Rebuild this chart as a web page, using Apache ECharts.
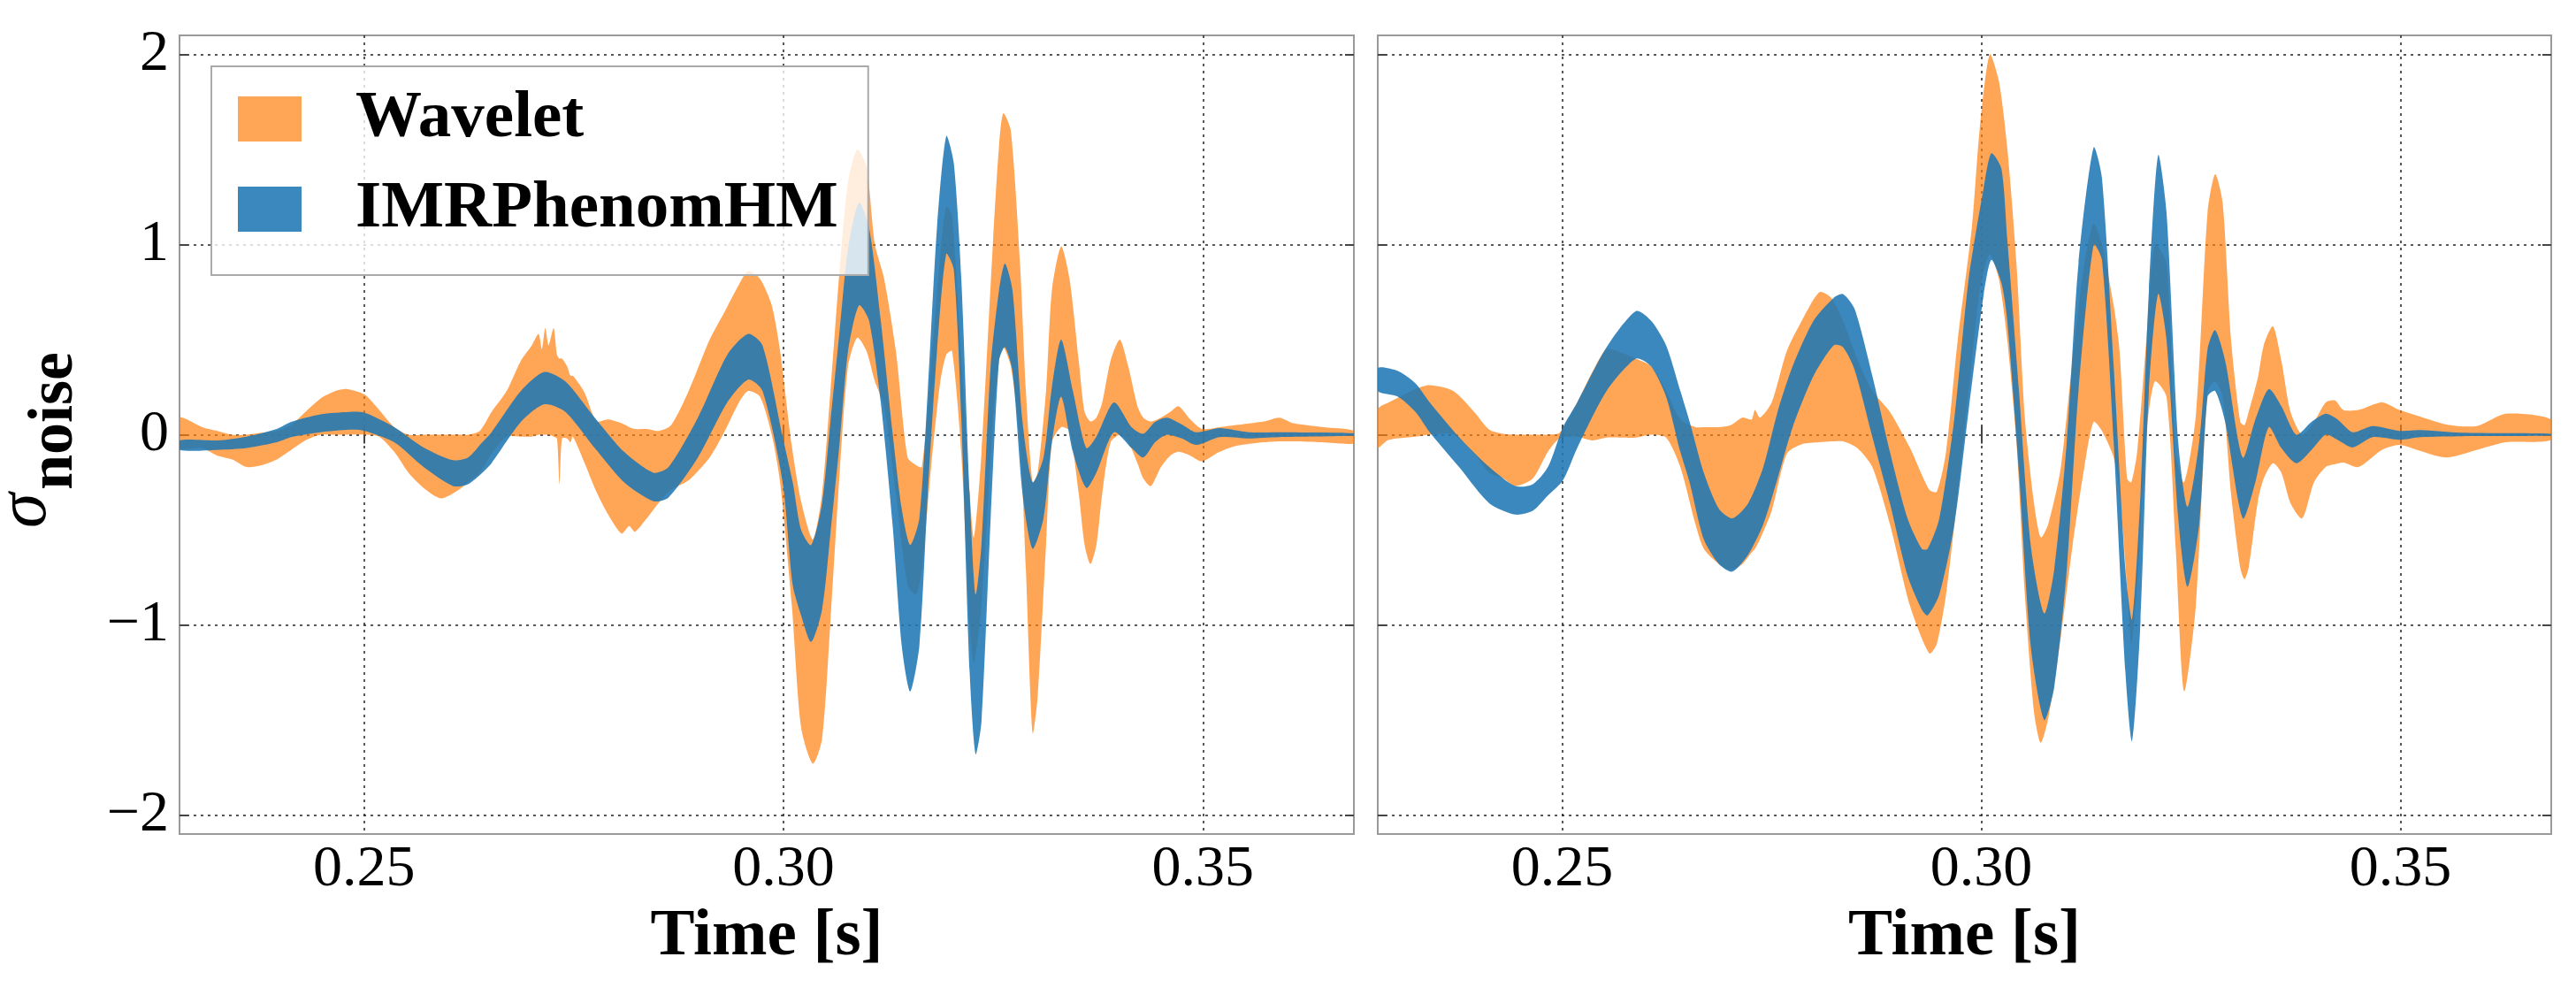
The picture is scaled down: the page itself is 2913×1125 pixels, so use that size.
<!DOCTYPE html>
<html>
<head>
<meta charset="utf-8">
<script src="https://cdn.jsdelivr.net/npm/echarts@6/dist/echarts.min.js"></script>
<style>
  html, body { margin: 0; padding: 0; background: #ffffff; }
  #chart { width: 2913px; height: 1125px; }
</style>
</head>
<body>
<div id="chart"></div>
<script>
// ---- DATA (time [s], lower, upper) ----
const xTicks = [0.25, 0.30, 0.35];
const yTicks = [-2, -1, 0, 1, 2];
const seriesNames = ['Wavelet', 'IMRPhenomHM'];

const leftWavelet = [
  [0.2280,-0.07,0.09],[0.2307,-0.07,0.04],[0.2325,-0.11,0.02],[0.2343,-0.13,0.0],[0.2360,-0.17,0.0],
  [0.2378,-0.16,0.01],[0.2396,-0.13,0.02],[0.2413,-0.08,0.05],[0.2430,-0.03,0.12],[0.2448,0.0,0.19],
  [0.2466,0.0,0.23],[0.2480,0.0,0.24],[0.2501,0.0,0.21],[0.2518,-0.01,0.13],[0.2536,-0.09,0.04],
  [0.2553,-0.20,0.0],[0.2571,-0.28,0.0],[0.2592,-0.335,0.0],[0.2613,-0.29,0.0],[0.2624,-0.25,0.0],
  [0.2638,-0.2,0.02],[0.2652,-0.1,0.12],[0.2670,-0.01,0.23],[0.2687,-0.01,0.39],[0.2700,-0.01,0.47],
  [0.2708,0.0,0.53],[0.2712,0.0,0.45],[0.2716,0.0,0.56],[0.2720,0.0,0.47],[0.2726,-0.01,0.56],
  [0.2730,-0.02,0.42],[0.2733,-0.26,0.40],[0.2736,-0.02,0.40],[0.2742,-0.02,0.36],[0.2746,-0.04,0.31],
  [0.2749,-0.01,0.31],[0.2763,-0.15,0.22],[0.2777,-0.30,0.07],[0.2791,-0.42,0.08],[0.2807,-0.52,0.06],
  [0.2816,-0.48,0.04],[0.2823,-0.51,0.03],[0.2837,-0.44,0.03],[0.2851,-0.36,0.02],[0.2866,-0.29,0.05],
  [0.2887,-0.24,0.23],[0.2912,-0.12,0.5],[0.2929,0.01,0.64],[0.2947,0.17,0.79],[0.2958,0.23,0.86],
  [0.2972,0.2,0.82],[0.2986,0.0,0.68],[0.2996,-0.25,0.44],[0.3010,-0.9,-0.06],[0.3021,-1.54,-0.35],
  [0.3035,-1.73,-0.55],[0.3046,-1.6,-0.31],[0.3056,-0.98,0.23],[0.3067,-0.2,0.87],[0.3077,0.36,1.33],
  [0.3088,0.51,1.5],[0.3099,0.44,1.41],[0.3109,0.28,1.0],[0.3120,0.15,0.82],[0.3134,-0.31,0.44],
  [0.3148,-0.79,-0.12],[0.3158,-0.84,-0.16],[0.3165,-0.71,-0.17],[0.3176,-0.17,0.36],[0.3187,0.28,0.95],
  [0.3194,0.42,1.2],[0.3201,0.44,1.15],[0.3212,-0.1,0.4],[0.3222,-1.0,-0.31],[0.3227,-1.2,-0.54],
  [0.3236,-0.9,-0.1],[0.3250,0.1,1.03],[0.3257,0.39,1.52],[0.3262,0.46,1.69],[0.3271,0.36,1.6],
  [0.3282,-0.04,0.9],[0.3289,-0.71,0.23],[0.3297,-1.57,-0.25],[0.3303,-1.38,-0.2],[0.3313,-0.58,0.23],
  [0.3320,-0.04,0.76],[0.3331,0.04,0.99],[0.3341,0.02,0.82],[0.3352,-0.31,0.39],[0.3359,-0.58,0.12],
  [0.3366,-0.68,0.07],[0.3373,-0.58,0.09],[0.3380,-0.31,0.17],[0.3390,-0.04,0.39],[0.3401,0.0,0.5],
  [0.3411,-0.04,0.36],[0.3422,-0.15,0.15],[0.3429,-0.23,0.09],[0.3438,-0.27,0.07],[0.3450,-0.17,0.09],
  [0.3461,-0.11,0.12],[0.3471,-0.09,0.15],[0.3485,-0.11,0.08],[0.3499,-0.14,0.03],[0.3520,-0.09,0.04],
  [0.3538,-0.06,0.05],[0.3573,-0.04,0.07],[0.3591,-0.035,0.09],[0.3608,-0.035,0.06],[0.3643,-0.04,0.04],
  [0.3681,-0.045,0.02]
];

const leftIMR = [
  [0.2280,-0.08,-0.03],[0.2325,-0.08,-0.03],[0.2360,-0.07,-0.01],[0.2396,-0.04,0.03],[0.2413,-0.013,0.067],
  [0.2448,0.013,0.107],[0.2483,0.027,0.12],[0.2501,0.02,0.115],[0.2536,-0.04,0.04],[0.2571,-0.17,-0.067],
  [0.2606,-0.27,-0.134],[0.2624,-0.26,-0.12],[0.2641,-0.2,-0.04],[0.2652,-0.15,0.013],[0.2687,0.067,0.23],
  [0.2715,0.16,0.33],[0.2740,0.12,0.28],[0.2775,-0.07,0.09],[0.2810,-0.25,-0.09],[0.2845,-0.35,-0.2],
  [0.2863,-0.33,-0.17],[0.2898,-0.12,0.09],[0.2933,0.17,0.42],[0.2958,0.29,0.53],[0.2975,0.23,0.47],
  [0.2999,-0.25,-0.01],[0.3011,-0.79,-0.25],[0.3021,-0.95,-0.5],[0.3033,-1.09,-0.58],[0.3046,-0.92,-0.36],
  [0.3056,-0.52,0.07],[0.3067,-0.04,0.55],[0.3077,0.44,0.98],[0.3090,0.68,1.22],[0.3102,0.6,1.09],
  [0.3116,0.17,0.6],[0.3130,-0.47,0.013],[0.3141,-1.11,-0.39],[0.3151,-1.35,-0.58],[0.3162,-1.11,-0.44],
  [0.3172,-0.31,0.23],[0.3183,0.44,1.09],[0.3194,0.95,1.57],[0.3203,0.87,1.43],[0.3212,0.09,0.82],
  [0.3222,-1.25,-0.31],[0.3229,-1.68,-0.84],[0.3236,-1.51,-0.58],[0.3247,-0.44,0.36],[0.3257,0.39,0.76],
  [0.3264,0.46,0.9],[0.3273,0.335,0.76],[0.3285,-0.31,0.067],[0.3297,-0.6,-0.25],[0.3310,-0.44,-0.12],
  [0.3320,-0.04,0.25],[0.3331,0.2,0.5],[0.3345,-0.09,0.23],[0.3361,-0.28,-0.07],[0.3373,-0.2,-0.01],
  [0.3394,0.013,0.17],[0.3415,-0.07,0.04],[0.3429,-0.12,0.005],[0.3443,-0.04,0.067],[0.3457,0.0,0.09],
  [0.3475,-0.02,0.054],[0.3492,-0.054,0.013],[0.3520,-0.013,0.035],[0.3555,-0.02,0.013],[0.3590,-0.013,0.013],
  [0.3681,-0.005,0.008]
];

const rightWavelet = [
  [0.2280,-0.067,0.134],[0.2293,-0.027,0.17],[0.2325,-0.01,0.24],[0.2342,0.0,0.26],[0.2370,0.0,0.23],
  [0.2395,-0.1,0.12],[0.2413,-0.2,0.027],[0.2430,-0.23,0.005],[0.2444,-0.27,0.0],[0.2465,-0.23,0.0],
  [0.2483,-0.09,0.0],[0.2497,-0.02,0.01],[0.2518,-0.01,0.17],[0.2536,-0.03,0.33],[0.2553,-0.015,0.45],
  [0.2571,-0.015,0.43],[0.2588,-0.015,0.40],[0.2606,0.0,0.36],[0.2624,-0.015,0.23],[0.2641,-0.17,0.08],
  [0.2659,-0.47,0.04],[0.2669,-0.6,0.04],[0.2687,-0.68,0.04],[0.2701,-0.71,0.05],[0.2715,-0.68,0.09],
  [0.2726,-0.62,0.08],[0.2730,-0.6,0.13],[0.2736,-0.55,0.09],[0.2750,-0.4,0.17],[0.2768,-0.1,0.44],
  [0.2786,-0.05,0.6],[0.2807,-0.04,0.75],[0.2821,-0.035,0.72],[0.2835,-0.035,0.6],[0.2852,-0.07,0.4],
  [0.2870,-0.17,0.23],[0.2891,-0.47,0.12],[0.2915,-0.9,-0.07],[0.2938,-1.15,-0.29],[0.2947,-1.1,-0.3],
  [0.2958,-0.84,-0.09],[0.2972,-0.31,0.5],[0.2989,0.4,1.1],[0.2998,0.75,1.6],[0.3010,0.95,2.0],
  [0.3021,0.82,1.86],[0.3031,0.5,1.51],[0.3042,-0.04,0.9],[0.3052,-0.84,0.09],[0.3063,-1.46,-0.36],
  [0.3071,-1.62,-0.54],[0.3080,-1.49,-0.47],[0.3095,-1.06,-0.17],[0.3109,-0.58,0.4],[0.3123,-0.17,0.9],
  [0.3134,0.067,1.11],[0.3144,0.02,1.0],[0.3158,-0.12,0.68],[0.3165,-0.3,0.44],[0.3174,-0.8,-0.23],
  [0.3179,-1.1,-0.25],[0.3186,-0.8,-0.09],[0.3197,0.0,0.5],[0.3207,0.28,1.0],[0.3221,0.2,0.9],
  [0.3232,-0.6,-0.1],[0.3242,-1.35,-0.25],[0.3256,-0.9,0.1],[0.3270,0.23,1.17],[0.3279,0.28,1.37],
  [0.3288,0.2,1.22],[0.3298,-0.31,0.5],[0.3309,-0.7,0.067],[0.3314,-0.76,0.05],[0.3319,-0.7,0.12],
  [0.3330,-0.35,0.3],[0.3337,-0.23,0.47],[0.3348,-0.15,0.57],[0.3358,-0.2,0.39],[0.3369,-0.36,0.12],
  [0.3383,-0.44,0.0],[0.3397,-0.25,0.067],[0.3411,-0.17,0.17],[0.3422,-0.155,0.18],[0.3432,-0.147,0.13],
  [0.3450,-0.17,0.13],[0.3478,-0.08,0.17],[0.3499,-0.054,0.13],[0.3520,-0.08,0.1],[0.3555,-0.12,0.054],
  [0.3591,-0.08,0.045],[0.3626,-0.04,0.11],[0.3680,-0.027,0.08]
];

const rightIMR = [
  [0.2280,0.23,0.35],[0.2304,0.2,0.335],[0.2325,0.12,0.27],[0.2342,0.013,0.17],[0.2377,-0.17,-0.013],
  [0.2413,-0.36,-0.17],[0.2444,-0.42,-0.27],[0.2465,-0.40,-0.26],[0.2483,-0.32,-0.17],[0.2501,-0.24,0.04],
  [0.2518,-0.07,0.17],[0.2553,0.23,0.46],[0.2588,0.4,0.65],[0.2606,0.36,0.6],[0.2624,0.2,0.47],
  [0.2641,-0.09,0.23],[0.2652,-0.25,0.07],[0.2669,-0.55,-0.2],[0.2687,-0.68,-0.39],[0.2703,-0.72,-0.44],
  [0.2722,-0.63,-0.36],[0.2740,-0.47,-0.17],[0.2757,-0.23,0.12],[0.2775,0.04,0.36],[0.2800,0.31,0.6],
  [0.2824,0.47,0.72],[0.2835,0.46,0.74],[0.2849,0.34,0.66],[0.2870,-0.01,0.31],[0.2891,-0.36,-0.09],
  [0.2912,-0.74,-0.44],[0.2929,-0.92,-0.6],[0.2936,-0.95,-0.6],[0.2950,-0.84,-0.44],[0.2968,-0.47,0.09],
  [0.2985,0.13,0.82],[0.3003,0.74,1.3],[0.3012,0.92,1.48],[0.3024,0.8,1.4],[0.3031,0.6,1.03],
  [0.3045,-0.2,0.23],[0.3059,-1.11,-0.58],[0.3075,-1.5,-0.94],[0.3087,-1.33,-0.71],[0.3102,-0.71,-0.04],
  [0.3116,0.23,0.9],[0.3134,1.0,1.51],[0.3144,0.92,1.35],[0.3158,-0.04,0.36],[0.3172,-1.25,-0.71],
  [0.3180,-1.61,-0.97],[0.3190,-0.98,-0.31],[0.3200,0.23,0.76],[0.3211,0.74,1.47],[0.3221,0.5,1.17],
  [0.3235,-0.44,-0.04],[0.3246,-0.8,-0.38],[0.3260,-0.47,-0.04],[0.3270,0.2,0.45],[0.3279,0.23,0.55],
  [0.3291,0.067,0.39],[0.3312,-0.44,-0.12],[0.3327,-0.25,0.08],[0.3343,0.04,0.24],[0.3358,-0.07,0.15],
  [0.3376,-0.15,0.0],[0.3394,-0.08,0.067],[0.3411,0.0,0.11],[0.3425,-0.027,0.08],[0.3443,-0.067,0.013],
  [0.3467,-0.013,0.045],[0.3499,-0.027,0.02],[0.3524,-0.013,0.024],[0.3573,-0.008,0.01],[0.3680,-0.005,0.005]
];

// ---- STYLE ----
const ORANGE = 'rgba(255,127,14,0.7)';
const BLUE = 'rgba(31,119,180,0.88)';
const FONT = '"Liberation Serif", "Times New Roman", serif';
const FRAME = '#9a9a9a';
const X_MIN = 0.228, X_MAX = 0.368, Y_MIN = -2.1, Y_MAX = 2.1;

function fmtY(v) { return v < 0 ? '\u2212' + Math.abs(v) : String(v); }

function band(name, data, color, idx) {
  return {
    type: 'custom', name: name, coordinateSystem: 'cartesian2d',
    xAxisIndex: idx * 2, yAxisIndex: idx * 2, clip: true, silent: true,
    itemStyle: { color: color },
    encode: { x: 0, y: [1, 2] },
    data: data,
    renderItem: function (params, api) {
      if (params.dataIndex !== 0) return null;
      const up = data.map(d => api.coord([d[0], d[2]]));
      const dn = data.map(d => api.coord([d[0], d[1]])).reverse();
      return {
        type: 'polygon',
        shape: { points: up.concat(dn), smooth: 0.25 },
        style: { fill: color, stroke: null }
      };
    }
  };
}

function gridDef(left, width) {
  return { left: left, top: 40, width: width, height: 903, show: true,
    borderColor: FRAME, borderWidth: 2, backgroundColor: 'transparent', outerBoundsMode: 'none', containLabel: false };
}

function xAxes(g) {
  const base = { type: 'value', gridIndex: g, min: X_MIN, max: X_MAX, axisLine: { show: false } };
  return [
    Object.assign({}, base, {
      position: 'bottom',
      axisTick: { show: true, inside: true, length: 10, customValues: xTicks, lineStyle: { color: '#444', width: 2 } },
      axisLabel: { show: true, customValues: xTicks, formatter: v => v.toFixed(2), fontSize: 66, fontFamily: FONT, color: '#000', margin: 8 },
      splitLine: { show: true, lineStyle: { color: '#222', type: [3, 5], width: 1.5 } },
      minorTick: { show: false }, minorSplitLine: { show: false },
      name: 'Time [s]', nameLocation: 'middle', nameGap: 78,
      nameTextStyle: { fontSize: 75, fontWeight: 'bold', fontFamily: FONT, color: '#000' }
    }),
    Object.assign({}, base, {
      position: 'top',
      axisTick: { show: true, inside: true, length: 10, customValues: xTicks, lineStyle: { color: '#444', width: 2 } },
      axisLabel: { show: false }, splitLine: { show: false }
    })
  ];
}

function yAxes(g, withLabels) {
  const base = { type: 'value', gridIndex: g, min: Y_MIN, max: Y_MAX, axisLine: { show: false } };
  return [
    Object.assign({}, base, {
      position: 'left',
      axisTick: { show: true, inside: true, length: 10, customValues: yTicks, lineStyle: { color: '#444', width: 2 } },
      axisLabel: { show: withLabels, customValues: yTicks, formatter: fmtY, fontSize: 66, fontFamily: FONT, color: '#000', margin: 12 },
      splitLine: { show: true, lineStyle: { color: '#222', type: [3, 5], width: 1.5 } }
    }),
    Object.assign({}, base, {
      position: 'right',
      axisTick: { show: true, inside: true, length: 10, customValues: yTicks, lineStyle: { color: '#444', width: 2 } },
      axisLabel: { show: false }, splitLine: { show: false }
    })
  ];
}

const chart = echarts.init(document.getElementById('chart'), null, { renderer: 'canvas' });
chart.setOption({
  animation: false,
  backgroundColor: '#ffffff',
  grid: [gridDef(203, 1328), gridDef(1558, 1327)],
  xAxis: xAxes(0).concat(xAxes(1)),
  yAxis: yAxes(0, true).concat(yAxes(1, false)),
  legend: {
    left: 239, top: 75, orient: 'vertical',
    padding: [22, 34, 37, 30],
    itemWidth: 72, itemHeight: 51, itemGap: 27,
    backgroundColor: 'rgba(255,255,255,0.8)', borderColor: '#aaaaaa', borderWidth: 2, borderRadius: 0,
    selectedMode: false,
    textStyle: { fontFamily: FONT, fontWeight: 'bold', fontSize: 75, color: '#000', padding: [0, 0, 0, 56] },
    data: [{ name: seriesNames[0], icon: 'rect' }, { name: seriesNames[1], icon: 'rect' }]
  },
  graphic: [
    { type: 'text', x: 30, y: 597, rotation: Math.PI / 2,
      style: { text: '\u03C3', font: 'italic 80px ' + FONT, fill: '#000', align: 'left', verticalAlign: 'middle', textAlign: 'left', textVerticalAlign: 'middle' } },
    { type: 'text', x: 62, y: 554, rotation: Math.PI / 2,
      style: { text: 'noise', font: 'bold 72px ' + FONT, fill: '#000', align: 'left', verticalAlign: 'middle', textAlign: 'left', textVerticalAlign: 'middle' } }
  ],
  series: [
    band(seriesNames[0], leftWavelet, ORANGE, 0),
    band(seriesNames[1], leftIMR, BLUE, 0),
    band(seriesNames[0], rightWavelet, ORANGE, 1),
    band(seriesNames[1], rightIMR, BLUE, 1)
  ]
});
</script>
</body>
</html>
